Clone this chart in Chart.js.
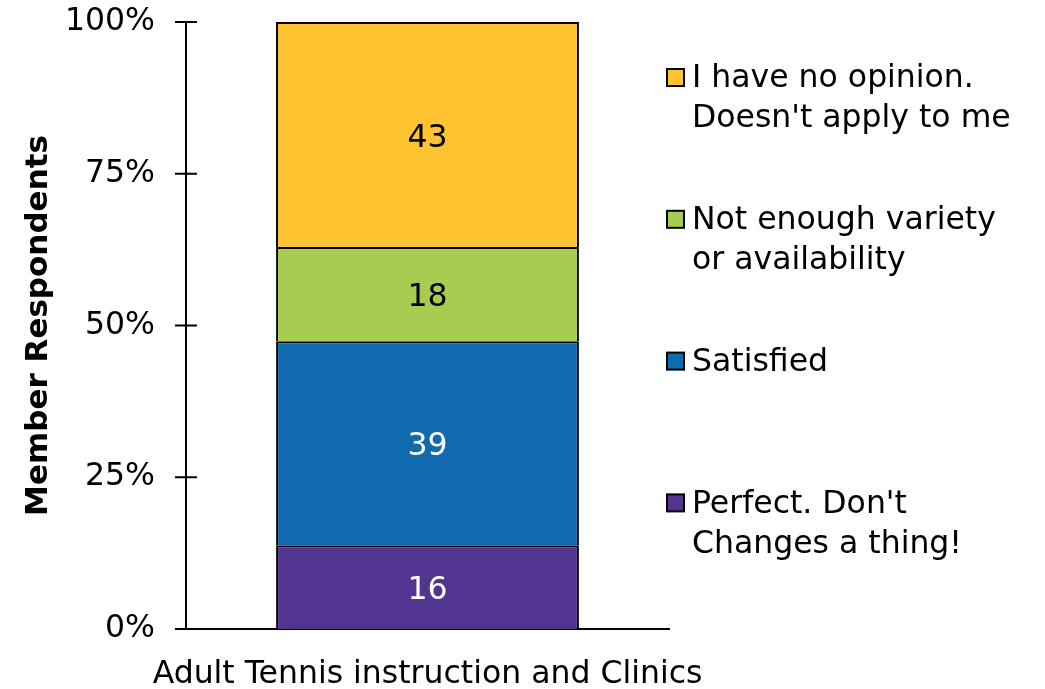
<!DOCTYPE html>
<html>
<head>
<meta charset="utf-8">
<script src="https://cdn.jsdelivr.net/npm/chart.js@4"></script>
<style>
  html, body { margin: 0; padding: 0; background: #fff; }
</style>
</head>
<body>
<canvas id="myChart" width="1045" height="689"></canvas>
<script>
// data
const categories = ['Adult Tennis instruction and Clinics'];
const seriesNames = [
  ["Perfect. Don't", 'Changes a thing!'],
  ['Satisfied'],
  ['Not enough variety', 'or availability'],
  ['I have no opinion.', "Doesn't apply to me"]
];
const seriesCounts = [16, 39, 18, 43];
const yTicks = [0, 25, 50, 75, 100];

const palette = ['#51358F', '#0F6AB0', '#A6CD51', '#FFC331'];
const labelInk = ['#fff', '#fff', '#000', '#000'];
const FONT = 'DejaVu Sans, Verdana, sans-serif';
const SIZE = 31.5;

const total = seriesCounts.reduce((a, b) => a + b, 0);

const datasets = seriesCounts.map(function(c, i) {
  return {
    label: seriesNames[i].join(' '),
    data: [c / total * 100],
    counts: [c],
    backgroundColor: palette[i],
    borderColor: '#000',
    borderWidth: { top: 2, left: 2, right: 2, bottom: 0 },
    borderSkipped: false,
    inflateAmount: 0,
    categoryPercentage: 1,
    barPercentage: 0.627
  };
});

// numbers inside each segment
const segmentLabels = {
  id: 'segmentLabels',
  afterDatasetsDraw(chart) {
    const ctx = chart.ctx;
    ctx.save();
    ctx.font = SIZE + 'px ' + FONT;
    ctx.textAlign = 'center';
    ctx.textBaseline = 'middle';
    chart.data.datasets.forEach(function(ds, i) {
      chart.getDatasetMeta(i).data.forEach(function(bar, j) {
        ctx.fillStyle = labelInk[i];
        ctx.fillText(String(ds.counts[j]), bar.x, (bar.y + bar.base) / 2 + 4);
      });
    });
    ctx.restore();
  }
};

// tick marks crossing the y axis
const crossTicks = {
  id: 'crossTicks',
  afterDraw(chart) {
    const ctx = chart.ctx;
    const y = chart.scales.y;
    const x0 = chart.chartArea.left;
    ctx.save();
    ctx.strokeStyle = '#000';
    ctx.lineWidth = 2;
    yTicks.forEach(function(v) {
      const py = y.getPixelForValue(v);
      ctx.beginPath();
      ctx.moveTo(x0 - 11, py);
      ctx.lineTo(x0 + 11, py);
      ctx.stroke();
    });
    ctx.restore();
  }
};

// legend on the right, top entry = last series
const sideLegend = {
  id: 'sideLegend',
  afterDraw(chart) {
    const ctx = chart.ctx;
    ctx.save();
    ctx.font = SIZE + 'px ' + FONT;
    ctx.textBaseline = 'middle';
    ctx.textAlign = 'left';
    const n = seriesNames.length;
    for (let k = 0; k < n; k++) {
      const i = n - 1 - k;
      const mid = 79 + k * 141.8;
      ctx.fillStyle = palette[i];
      ctx.fillRect(667, mid - 10, 17, 17);
      ctx.strokeStyle = '#000';
      ctx.lineWidth = 2;
      ctx.strokeRect(667, mid - 10, 17, 17);
      ctx.fillStyle = '#000';
      seriesNames[i].forEach(function(line, l) {
        ctx.fillText(line, 692, mid + l * 40);
      });
    }
    ctx.restore();
  }
};

new Chart(document.getElementById('myChart'), {
  type: 'bar',
  data: { labels: categories, datasets: datasets },
  options: {
    responsive: false,
    devicePixelRatio: 1,
    animation: false,
    layout: { padding: { left: 20, right: 376, top: 22, bottom: 0 } },
    plugins: {
      legend: { display: false },
      tooltip: { enabled: false }
    },
    scales: {
      x: {
        stacked: true,
        grid: { display: false, drawTicks: false },
        border: { color: '#000', width: 2 },
        ticks: { color: '#000', font: { family: FONT, size: SIZE }, padding: 27 },
        afterFit: function(s) { s.height = 60; s.paddingLeft = 0; s.paddingRight = 0; }
      },
      y: {
        stacked: true,
        min: 0,
        max: 100,
        afterBuildTicks: function(s) { s.ticks = yTicks.map(v => ({ value: v })); },
        grid: { display: false, drawTicks: false },
        border: { color: '#000', width: 2 },
        ticks: {
          color: '#000',
          font: { family: FONT, size: SIZE },
          padding: 31,
          callback: v => v + '%'
        },
        title: {
          display: true,
          text: 'Member Respondents',
          color: '#000',
          font: { family: FONT, size: 31, weight: 'bold' },
          padding: 0
        },
        afterFit: function(s) { s.width = 166; s.paddingTop = 0; s.paddingBottom = 0; }
      }
    }
  },
  plugins: [segmentLabels, crossTicks, sideLegend]
});
</script>
</body>
</html>
